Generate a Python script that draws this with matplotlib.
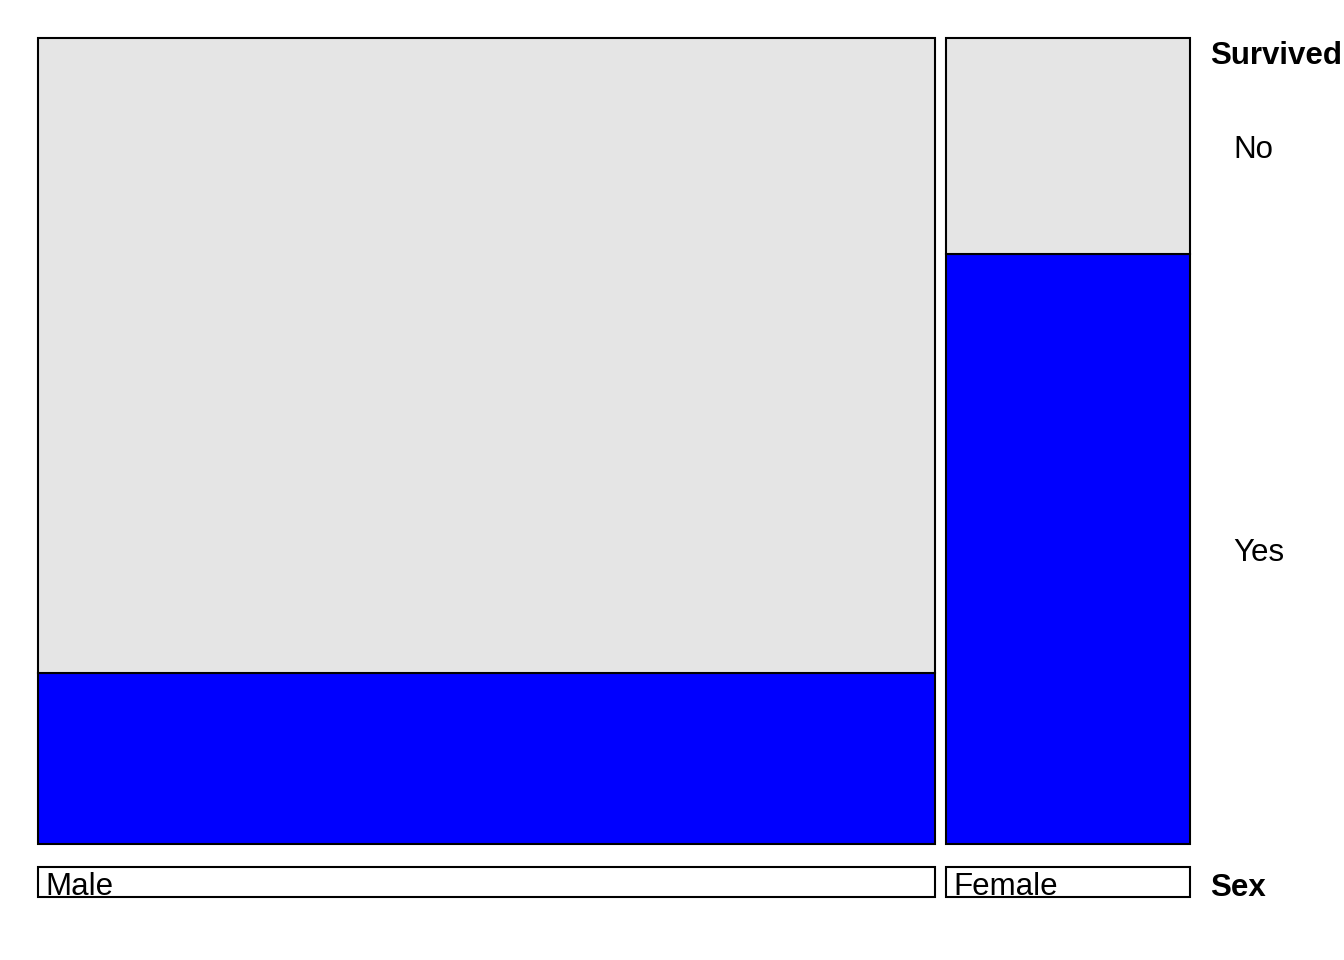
import matplotlib.pyplot as plt
import numpy as np

plt.rcParams['font.family'] = ['Liberation Sans', 'DejaVu Sans']

# Titanic: Sex x Survived
sex = ['Male', 'Female']
survived_levels = ['No', 'Yes']
n_no = np.array([1364, 126])
n_yes = np.array([367, 344])

W, H = 1344, 960
fig = plt.figure(figsize=(W / 100, H / 100), dpi=100)

# panel extents in pixels
left, right, top, bottom = 38, 1190, 38, 844
gap_px = 11
strip_top, strip_bot = 867, 897
fs = 22.5

totals = n_no + n_yes
gap = gap_px * totals.sum() / (right - left - gap_px * (len(sex) - 1))
xs = np.concatenate([[0], np.cumsum(totals + gap)[:-1]])
xmax = totals.sum() + gap * (len(sex) - 1)
yes_frac = n_yes / totals
no_frac = n_no / totals

ax = fig.add_axes([left / W, 1 - bottom / H, (right - left) / W, (bottom - top) / H])
b1 = ax.bar(xs, yes_frac, width=totals, align='edge', color='#0000FF', edgecolor='black', linewidth=1.5)
b2 = ax.bar(xs, no_frac, bottom=yes_frac, width=totals, align='edge', color='#E5E5E5',
            edgecolor='black', linewidth=1.5)
for p in list(b1) + list(b2):
    p.set_clip_on(False)
ax.set_xlim(0, xmax)
ax.set_ylim(0, 1)
ax.axis('off')

# strip for Sex labels
sx = fig.add_axes([left / W, 1 - strip_bot / H, (right - left) / W, (strip_bot - strip_top) / H])
b3 = sx.bar(xs, np.ones(len(sex)), width=totals, align='edge', color='white', edgecolor='black', linewidth=1.5)
for p in b3:
    p.set_clip_on(False)
for x0, lab in zip(xs, sex):
    sx.text(x0 + 7 * xmax / (right - left), 0.07, lab, fontsize=fs, va='baseline', ha='left')
sx.set_xlim(0, xmax)
sx.set_ylim(0, 1)
sx.axis('off')

# right-hand labels for Survived, placed at the last column's segment centres
lx = 1233 / W
fig.text(1210 / W, 1 - 52 / H, 'Survived', fontsize=fs, fontweight='bold', va='center_baseline', ha='left')
seg_centres = [yes_frac[-1] + no_frac[-1] / 2, yes_frac[-1] / 2]
for lab, yc in zip(survived_levels, seg_centres):
    yfig = (1 - bottom / H) + yc * (bottom - top) / H
    fig.text(lx, yfig, lab, fontsize=fs, va='center_baseline', ha='left')
fig.text(1210 / W, 1 - 885 / H, 'Sex', fontsize=fs, fontweight='bold', va='center_baseline', ha='left')

fig.savefig('out.png', dpi=100, facecolor='white')
